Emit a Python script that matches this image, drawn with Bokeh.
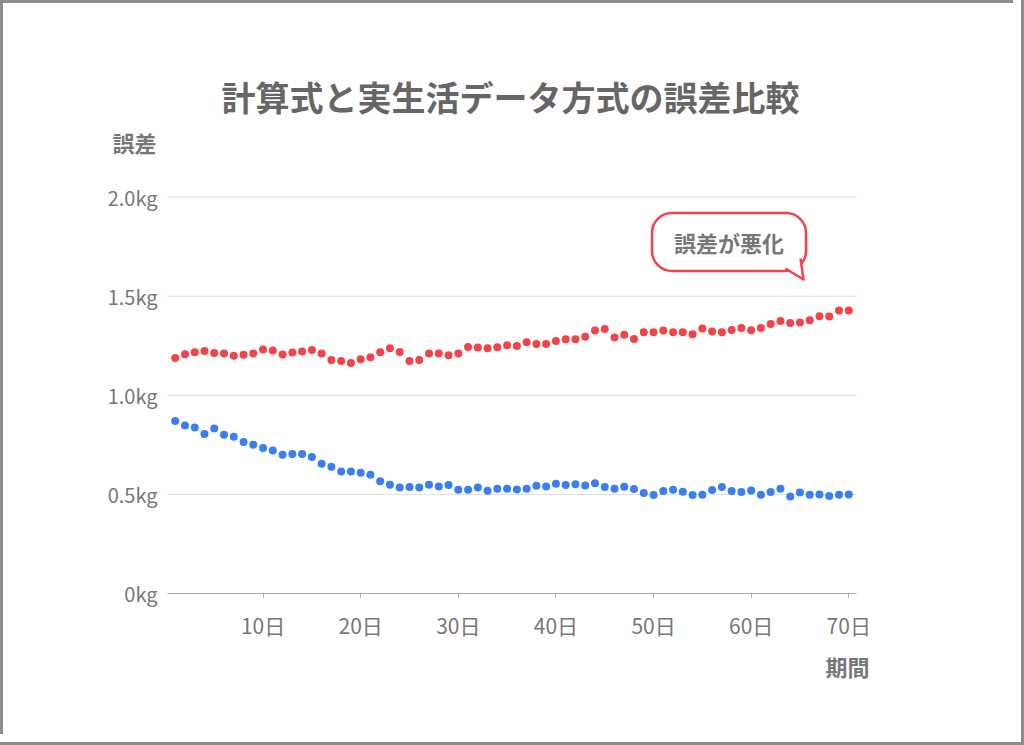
from bokeh.plotting import figure
from bokeh.models import Range1d, FixedTicker, Label, Title
from bokeh.embed import file_html
from bokeh.resources import INLINE

# ---------------- data ----------------
days = list(range(1, 71))
calc_error = [
    1.188, 1.207, 1.217, 1.224, 1.214, 1.211, 1.199, 1.204, 1.211, 1.231,
    1.226, 1.206, 1.216, 1.221, 1.229, 1.211, 1.178, 1.173, 1.163, 1.182,
    1.192, 1.217, 1.237, 1.219, 1.173, 1.178, 1.211, 1.211, 1.202, 1.211,
    1.244, 1.241, 1.237, 1.242, 1.253, 1.249, 1.268, 1.259, 1.259, 1.274,
    1.283, 1.283, 1.296, 1.327, 1.335, 1.291, 1.305, 1.284, 1.318, 1.318,
    1.327, 1.318, 1.318, 1.308, 1.337, 1.322, 1.318, 1.330, 1.340, 1.328,
    1.340, 1.360, 1.375, 1.365, 1.367, 1.379, 1.399, 1.397, 1.428, 1.428,
]
real_error = [
    0.870, 0.848, 0.838, 0.805, 0.832, 0.801, 0.791, 0.764, 0.751, 0.734,
    0.722, 0.700, 0.704, 0.704, 0.689, 0.655, 0.640, 0.616, 0.616, 0.609,
    0.599, 0.566, 0.549, 0.535, 0.537, 0.535, 0.549, 0.540, 0.547, 0.524,
    0.524, 0.535, 0.519, 0.529, 0.529, 0.525, 0.529, 0.544, 0.540, 0.554,
    0.547, 0.551, 0.545, 0.556, 0.537, 0.529, 0.539, 0.527, 0.507, 0.497,
    0.517, 0.524, 0.514, 0.497, 0.498, 0.522, 0.537, 0.517, 0.512, 0.520,
    0.498, 0.512, 0.529, 0.490, 0.509, 0.498, 0.500, 0.492, 0.498, 0.500,
]
x_ticks = [10, 20, 30, 40, 50, 60, 70]
x_tick_labels = ["10日", "20日", "30日", "40日", "50日", "60日", "70日"]
y_ticks = [0.0, 0.5, 1.0, 1.5, 2.0]
y_tick_labels = ["0kg", "0.5kg", "1.0kg", "1.5kg", "2.0kg"]
title_text = "計算式と実生活データ方式の誤差比較"
y_title = "誤差"
x_title = "期間"
callout_text = "誤差が悪化"

# ---------------- layout (canvas pixels) ----------------
BW = 3                       # page border width
W, H = 1013, 734
LEFT, RIGHT, TOP, BOTTOM = 164, 866, 157, 590
DAY1_PX = 171.7              # pixel of day 1
PPX = 9.762                  # pixels per day
PPY = 198.2                  # pixels per kg

def dx(px):
    return 1 + (px - DAY1_PX) / PPX

def dy(py):
    return (BOTTOM - py) / PPY

FONT = "Noto Sans CJK JP"
RED = "#f2434b"
BLUE = "#3a7ff0"
TXT = "#777777"

p = figure(width=W, height=H, output_backend="svg", toolbar_location=None,
           x_range=Range1d(dx(LEFT), dx(RIGHT)), y_range=Range1d(0, dy(TOP)),
           min_border_left=LEFT, min_border_right=W - RIGHT,
           min_border_top=TOP, min_border_bottom=H - BOTTOM)
p.title_location = None
p.styles = {"border-left": f"{BW}px solid #8c8c8c", "border-top": f"{BW}px solid #8c8c8c",
            "outline": f"{BW}px solid #8c8c8c", "outline-offset": "8px"}
p.outline_line_color = None
p.background_fill_color = "white"
p.border_fill_color = "white"

axis_bounds = (dx(164), dx(853))

# x axis
p.xaxis.ticker = FixedTicker(ticks=x_ticks)
p.xaxis.major_label_overrides = {t: l for t, l in zip(x_ticks, x_tick_labels)}
p.xaxis.bounds = axis_bounds
p.xaxis.axis_line_color = "#a8a8a8"
p.xaxis.major_tick_line_color = "#a8a8a8"
p.xaxis.major_tick_out = 4
p.xaxis.major_tick_in = 0
p.xaxis.minor_tick_line_color = None
p.xaxis.major_label_text_font = FONT
p.xaxis.major_label_text_font_size = "21px"
p.xaxis.major_label_text_color = TXT
p.xaxis.major_label_standoff = 12

# y axis: labels only
p.yaxis.ticker = FixedTicker(ticks=y_ticks)
p.yaxis.major_label_overrides = {t: l for t, l in zip(y_ticks, y_tick_labels)}
p.yaxis.axis_line_color = None
p.yaxis.major_tick_line_color = None
p.yaxis.minor_tick_line_color = None
p.yaxis.major_tick_out = 0
p.yaxis.major_tick_in = 0
p.yaxis.major_label_standoff = 10
p.yaxis.major_label_text_font = FONT
p.yaxis.major_label_text_font_size = "20px"
p.yaxis.major_label_text_color = TXT

# horizontal grid lines at the y ticks, limited to the axis extent
p.xgrid.grid_line_color = None
p.ygrid.grid_line_color = None
grid_vals = [t for t in y_ticks if t > 0]
p.segment(x0=[axis_bounds[0]] * len(grid_vals), y0=grid_vals,
          x1=[axis_bounds[1]] * len(grid_vals), y1=grid_vals,
          line_color="#dddddd", line_width=1)

# data
p.scatter(days, calc_error, size=8, color=RED, line_color=None)
p.scatter(days, real_error, size=8, color=BLUE, line_color=None)

# texts
p.add_layout(Title(text=y_title, align="left", offset=-55, standoff=6,
                   text_font=FONT, text_font_size="22px", text_font_style="bold",
                   text_color=TXT), "above")
p.add_layout(Title(text=title_text, align="left", offset=54, standoff=0,
                   text_font=FONT, text_font_size="34px", text_font_style="bold",
                   text_color="#666666"), "above")
p.add_layout(Title(text=x_title, align="right", text_font=FONT,
                   text_font_size="22px", text_font_style="bold",
                   text_color=TXT), "below")

# callout bubble
cx, cy = 725.5, 238.5
p.add_layout(Label(x=dx(cx), y=dy(cy), text=callout_text, text_font=FONT,
                   text_font_size="22px", text_font_style="bold",
                   text_color=TXT, text_align="center", text_baseline="middle",
                   padding=(22, 13), border_radius=20,
                   background_fill_color="white",
                   border_line_color=RED, border_line_width=2.5))
tail_px = [(cx + 56.5, cy + 26.5), (cx + 74.5, cy + 37.5), (cx + 71.5, cy + 16.5)]
tx = [dx(a) for a, b in tail_px]
ty = [dy(b) for a, b in tail_px]
tp = p.patch(tx, ty, fill_color="white", line_color=None)
tp.level = "overlay"
tl = p.line(tx, ty, line_color=RED, line_width=2.5, line_join="round")
tl.level = "overlay"

with open("out.html", "w", encoding="utf-8") as f:
    f.write(file_html(p, INLINE, title="誤差比較"))
